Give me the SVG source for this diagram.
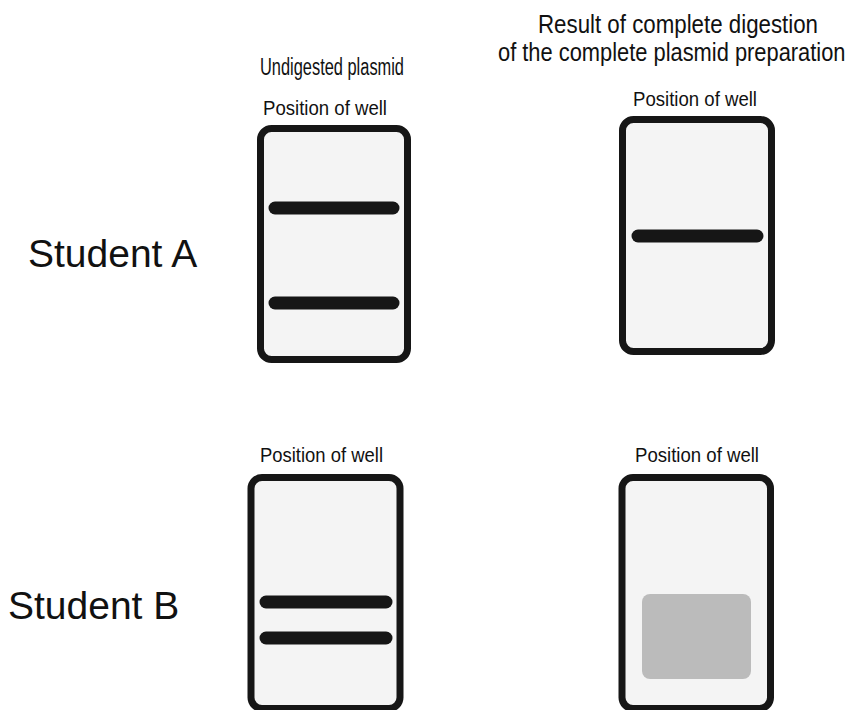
<svg xmlns="http://www.w3.org/2000/svg" width="858" height="710" viewBox="0 0 858 710">
<style>
.gel{fill:#f4f4f4;stroke:#161616;stroke-width:7}
.band{stroke:#161616;stroke-width:13;stroke-linecap:round}
.smear{fill:#bbbbbb}
text{font-family:"Liberation Sans",Arial,sans-serif;fill:#111}
.lbl{font-size:20px}
.und{font-size:23px}
.big{font-size:39px}
.ttl{font-size:25px}
</style>
<rect width="858" height="710" fill="#ffffff"/>
<g id="labels">
<text class="big" x="28" y="267">Student A</text>
<text class="big" x="8" y="619">Student B</text>
<text class="und" x="260" y="75" textLength="144" lengthAdjust="spacingAndGlyphs">Undigested plasmid</text>
<text class="ttl" x="538" y="33" textLength="280" lengthAdjust="spacingAndGlyphs">Result of complete digestion</text>
<text class="ttl" transform="translate(498,61) scale(0.875,1)" x="0" y="0">of the complete plasmid preparation</text>
</g>
<g id="gelA1">
<text class="lbl" x="263" y="115" textLength="124" lengthAdjust="spacingAndGlyphs">Position of well</text>
<rect class="gel" x="260.5" y="128.5" width="147" height="231" rx="11"/>
<line class="band" x1="275" y1="208" x2="393" y2="208"/>
<line class="band" x1="275" y1="303" x2="393" y2="303"/>
</g>
<g id="gelA2">
<text class="lbl" x="633" y="106" textLength="124" lengthAdjust="spacingAndGlyphs">Position of well</text>
<rect class="gel" x="622.5" y="119.5" width="149" height="232" rx="11"/>
<line class="band" x1="638" y1="236" x2="757" y2="236"/>
</g>
<g id="gelB1">
<text class="lbl" x="260" y="462" textLength="123" lengthAdjust="spacingAndGlyphs">Position of well</text>
<rect class="gel" x="251" y="477.5" width="149" height="231" rx="11"/>
<line class="band" x1="266" y1="602" x2="386" y2="602"/>
<line class="band" x1="266" y1="638" x2="386" y2="638"/>
</g>
<g id="gelB2">
<text class="lbl" x="635" y="462" textLength="124" lengthAdjust="spacingAndGlyphs">Position of well</text>
<rect class="gel" x="622" y="477.5" width="148.5" height="231" rx="11"/>
<rect class="smear" x="642" y="594" width="109" height="85" rx="8"/>
</g>
<g id="connectors"></g>
</svg>
